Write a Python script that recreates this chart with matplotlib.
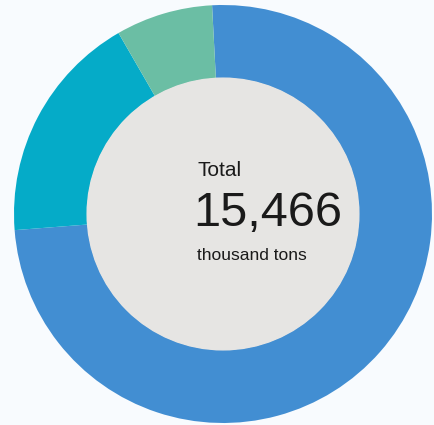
import matplotlib
matplotlib.use("Agg")
import matplotlib.pyplot as plt

# Breakdown of the total (thousand tons), drawn clockwise from the top
labels = ["Segment A", "Segment B", "Segment C"]
values = [11538, 2768, 1160]
colors = ["#428ED2", "#05ABC8", "#6BBEA4"]
total_label = "15,466"

fig = plt.figure(figsize=(4.35, 4.25), dpi=100)
fig.patch.set_facecolor("#F8FBFE")
ax = fig.add_axes([0, 0, 1, 1])

cx, cy, r_out = 223, 211, 209
ax.pie(values, colors=colors, startangle=93, counterclock=False,
       center=(cx, cy), radius=r_out, frame=True,
       wedgeprops=dict(width=r_out * 0.35, linewidth=0))
ax.set_xlim(0, 435)
ax.set_ylim(0, 425)
ax.set_aspect("equal")
ax.axis("off")

inner = plt.Circle((cx, cy), r_out * 0.65, color="#E6E5E3", zorder=3)
ax.add_patch(inner)

font = "Liberation Sans"
ax.text(198, 254, "Total", fontsize=15, family=font, color="#1a1a1a",
        ha="left", va="center", zorder=4)
ax.text(193, 212, total_label, fontsize=35, family=font, color="#1a1a1a",
        ha="left", va="center", zorder=4)
ax.text(197, 170, "thousand tons", fontsize=12.5, family=font, color="#1a1a1a",
        ha="left", va="center", zorder=4)

fig.savefig("out.png", dpi=100, facecolor=fig.get_facecolor())
